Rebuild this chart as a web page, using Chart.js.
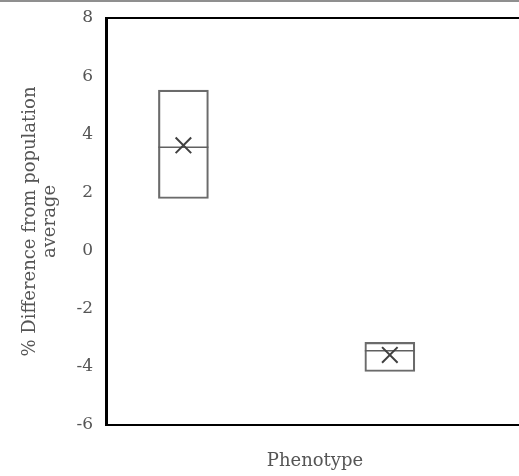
<!DOCTYPE html>
<html>
<head>
<meta charset="utf-8">
<script src="https://cdn.jsdelivr.net/npm/chart.js@4/dist/chart.umd.min.js"></script>
<style>
  html, body { margin: 0; padding: 0; overflow: hidden; background: #fff; }
  #wrap { position: relative; width: 530px; height: 476px; }
  #topline { position: absolute; left: 0; top: 0; width: 530px; height: 2px; background: #8f8f8f; z-index: 2; }
  canvas { display: block; }
</style>
</head>
<body>
<div id="wrap">
  <div id="topline"></div>
  <canvas id="chart" width="530" height="476"></canvas>
</div>
<script>
// Box summary per group (group index on x)
const groups = [1, 2]
const q1 = [1.79, -4.16]
const q3 = [5.52, -3.16]
const medians = [3.55, -3.45]
const means = [3.62, -3.59]

const yTicks = { min: -6, max: 8, step: 2 }
const yTitle = ['% Difference from population', 'average']
const xTitle = 'Phenotype'

const textColor = '#555555'
const serif = "'DejaVu Serif', 'Liberation Serif', serif"

// top border of the plot area
const frameTop = {
  id: 'frameTop',
  afterDraw(chart) {
    const { ctx, chartArea } = chart
    ctx.save()
    ctx.strokeStyle = '#000'
    ctx.lineWidth = 2
    ctx.beginPath()
    ctx.moveTo(chartArea.left, chartArea.top)
    ctx.lineTo(chartArea.right, chartArea.top)
    ctx.stroke()
    ctx.restore()
  }
}

const ctx = document.getElementById('chart').getContext('2d')

new Chart(ctx, {
  type: 'bar',
  data: {
    datasets: [
      {
        type: 'scatter',
        label: 'mean',
        data: groups.map((g, i) => ({ x: g, y: means[i] })),
        pointStyle: 'crossRot',
        radius: 11,
        borderColor: '#404040',
        borderWidth: 2,
        order: 0
      },
      {
        type: 'scatter',
        label: 'median',
        data: groups.map((g, i) => ({ x: g, y: medians[i] })),
        pointStyle: 'line',
        radius: 25,
        borderColor: '#606060',
        borderWidth: 1.5,
        order: 1
      },
      {
        label: 'box',
        data: groups.map((g, i) => ({ x: g, y: [q1[i], q3[i]] })),
        backgroundColor: 'rgba(255,255,255,0)',
        borderColor: '#6b6b6b',
        borderWidth: 1.5,
        borderSkipped: false,
        barThickness: 50,
        order: 2
      }
    ]
  },
  options: {
    responsive: false,
    animation: false,
    layout: { autoPadding: false, padding: { top: 18, right: 6, bottom: 0, left: 0 } },
    plugins: {
      legend: { display: false },
      tooltip: { enabled: false }
    },
    scales: {
      x: {
        type: 'linear',
        offset: false,
        min: 0.625,
        max: 2.65,
        grid: { display: false, drawTicks: false },
        border: { display: true, color: '#000', width: 2 },
        ticks: { display: false },
        title: {
          display: true,
          text: xTitle,
          color: textColor,
          font: { family: serif, size: 18 },
          padding: { top: 0, bottom: 4 }
        },
        afterFit(scale) { scale.height = 51 }
      },
      y: {
        min: yTicks.min,
        max: yTicks.max,
        grid: { display: false, drawTicks: false },
        border: { display: true, color: '#000', width: 3 },
        ticks: {
          stepSize: yTicks.step,
          padding: 13,
          color: textColor,
          font: { family: serif, size: 17 }
        },
        title: {
          display: true,
          text: yTitle,
          color: textColor,
          font: { family: serif, size: 18, lineHeight: '20px' },
          padding: { top: 20, bottom: 0 }
        },
        afterFit(scale) {
          scale.width = 106
          scale.paddingTop = 0
          scale.paddingBottom = 0
        }
      }
    }
  },
  plugins: [frameTop]
})
</script>
</body>
</html>
